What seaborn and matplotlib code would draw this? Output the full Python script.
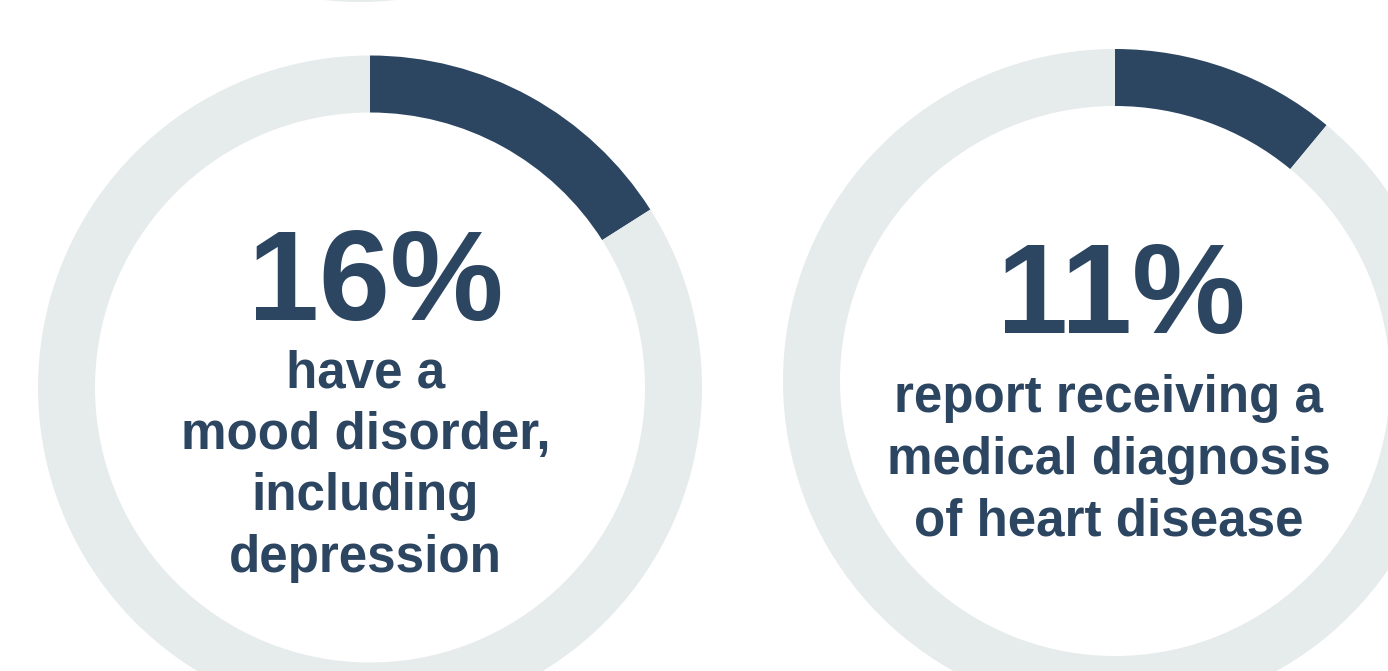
import matplotlib
matplotlib.use("Agg")
import matplotlib.pyplot as plt
import seaborn as sns

# Share of respondents for each indicator (percent)
values = [16, 11]
headlines = ["16%", "11%"]
captions = [
    ["have a", "mood disorder,", "including", "depression"],
    ["report receiving a", "medical diagnosis", "of heart disease"],
]

DARK = "#2c4561"
TRACK = "#e6ebeb"

sns.set_theme(style="white")
plt.rcParams["font.family"] = ["Liberation Sans", "DejaVu Sans"]

W, H = 1388, 671
fig = plt.figure(figsize=(W / 100, H / 100), dpi=100)
ax = fig.add_axes([0, 0, 1, 1])

R_OUT, RING = 332, 57

def y(px):
    return H - px

# ring centres, title anchors and caption anchors in pixel space
centres = [(370, 387.5), (1115, 381)]
head_pos = [(376, 320), (1121, 333)]
cap_pos = [(365.5, 387), (1108.5, 412)]
cap_step = 61.7

# partial ring of the next row peeking in at the top edge
ax.pie([1], colors=[TRACK], radius=R_OUT, center=(360, y(-330)),
       wedgeprops=dict(width=RING, edgecolor="none"), frame=True)

for v, (cx, cy) in zip(values, centres):
    ax.pie([v, 100 - v], colors=[DARK, TRACK], startangle=90, counterclock=False,
           radius=R_OUT, center=(cx, y(cy)),
           wedgeprops=dict(width=RING, edgecolor="none"), frame=True)

for head, (hx, hy) in zip(headlines, head_pos):
    ax.text(hx, y(hy), head, ha="center", va="baseline", fontsize=92,
            fontweight="bold", color=DARK)

for lines, (lx, ly) in zip(captions, cap_pos):
    for i, line in enumerate(lines):
        ax.text(lx, y(ly + i * cap_step), line, ha="center", va="baseline",
                fontsize=36.8, fontweight="bold", color=DARK)

ax.set_xlim(0, W)
ax.set_ylim(0, H)
ax.set_aspect("equal")
ax.axis("off")

fig.savefig("out.png", dpi=100, facecolor="white")
